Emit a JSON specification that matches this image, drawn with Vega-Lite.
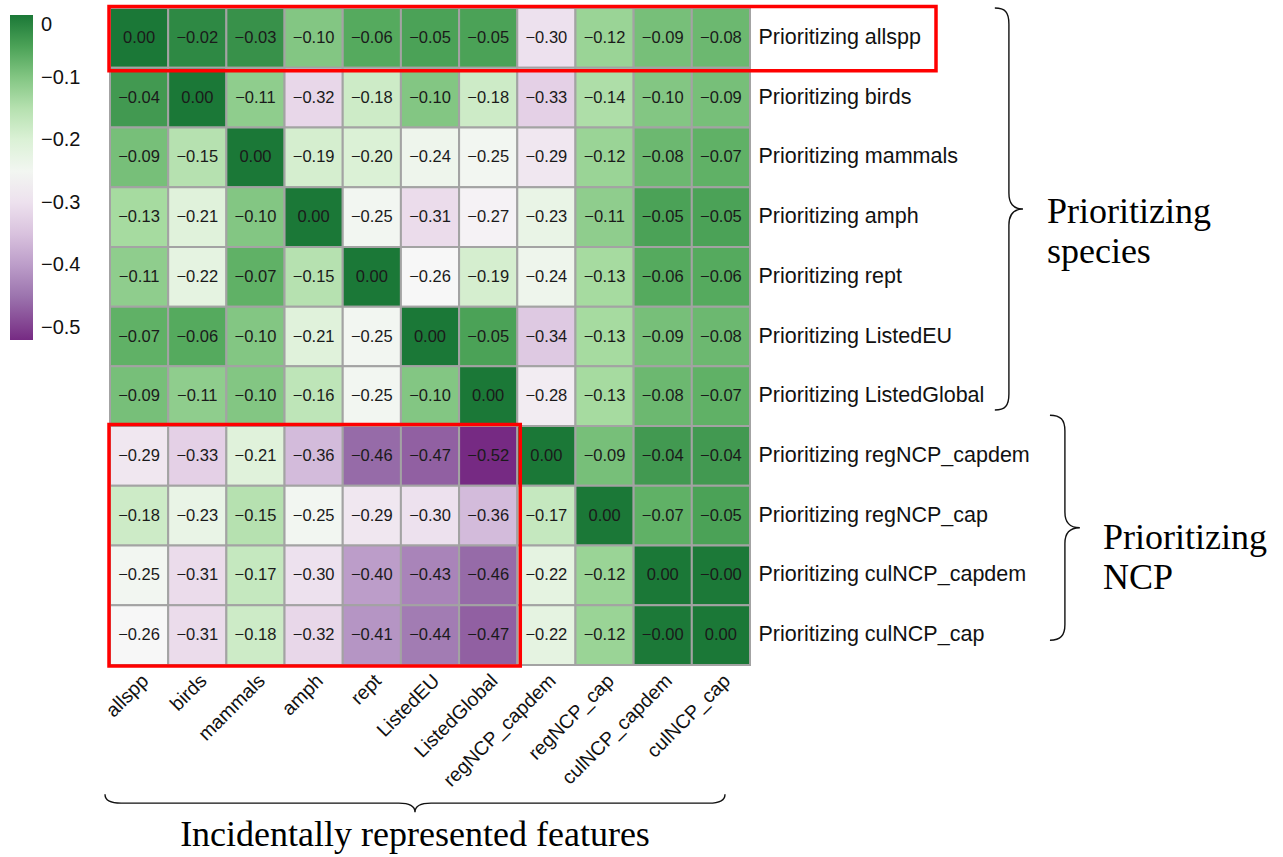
{
  "$schema": "https://vega.github.io/schema/vega-lite/v6.json",
  "autosize": {"type": "none"},
  "padding": {"left": 110, "top": 8, "right": 533, "bottom": 192},
  "width": 640,
  "height": 657,
  "background": "white",
  "config": {"view": {"stroke": null}},
  "datasets": {
    "cells": [
      {"r":"allspp","c":"allspp","v":0,"t":"0.00"},{"r":"allspp","c":"birds","v":-0.02,"t":"−0.02"},{"r":"allspp","c":"mammals","v":-0.03,"t":"−0.03"},{"r":"allspp","c":"amph","v":-0.10,"t":"−0.10"},{"r":"allspp","c":"rept","v":-0.06,"t":"−0.06"},{"r":"allspp","c":"ListedEU","v":-0.05,"t":"−0.05"},{"r":"allspp","c":"ListedGlobal","v":-0.05,"t":"−0.05"},{"r":"allspp","c":"regNCP_capdem","v":-0.30,"t":"−0.30"},{"r":"allspp","c":"regNCP_cap","v":-0.12,"t":"−0.12"},{"r":"allspp","c":"culNCP_capdem","v":-0.09,"t":"−0.09"},{"r":"allspp","c":"culNCP_cap","v":-0.08,"t":"−0.08"},
      {"r":"birds","c":"allspp","v":-0.04,"t":"−0.04"},{"r":"birds","c":"birds","v":0,"t":"0.00"},{"r":"birds","c":"mammals","v":-0.11,"t":"−0.11"},{"r":"birds","c":"amph","v":-0.32,"t":"−0.32"},{"r":"birds","c":"rept","v":-0.18,"t":"−0.18"},{"r":"birds","c":"ListedEU","v":-0.10,"t":"−0.10"},{"r":"birds","c":"ListedGlobal","v":-0.18,"t":"−0.18"},{"r":"birds","c":"regNCP_capdem","v":-0.33,"t":"−0.33"},{"r":"birds","c":"regNCP_cap","v":-0.14,"t":"−0.14"},{"r":"birds","c":"culNCP_capdem","v":-0.10,"t":"−0.10"},{"r":"birds","c":"culNCP_cap","v":-0.09,"t":"−0.09"},
      {"r":"mammals","c":"allspp","v":-0.09,"t":"−0.09"},{"r":"mammals","c":"birds","v":-0.15,"t":"−0.15"},{"r":"mammals","c":"mammals","v":0,"t":"0.00"},{"r":"mammals","c":"amph","v":-0.19,"t":"−0.19"},{"r":"mammals","c":"rept","v":-0.20,"t":"−0.20"},{"r":"mammals","c":"ListedEU","v":-0.24,"t":"−0.24"},{"r":"mammals","c":"ListedGlobal","v":-0.25,"t":"−0.25"},{"r":"mammals","c":"regNCP_capdem","v":-0.29,"t":"−0.29"},{"r":"mammals","c":"regNCP_cap","v":-0.12,"t":"−0.12"},{"r":"mammals","c":"culNCP_capdem","v":-0.08,"t":"−0.08"},{"r":"mammals","c":"culNCP_cap","v":-0.07,"t":"−0.07"},
      {"r":"amph","c":"allspp","v":-0.13,"t":"−0.13"},{"r":"amph","c":"birds","v":-0.21,"t":"−0.21"},{"r":"amph","c":"mammals","v":-0.10,"t":"−0.10"},{"r":"amph","c":"amph","v":0,"t":"0.00"},{"r":"amph","c":"rept","v":-0.25,"t":"−0.25"},{"r":"amph","c":"ListedEU","v":-0.31,"t":"−0.31"},{"r":"amph","c":"ListedGlobal","v":-0.27,"t":"−0.27"},{"r":"amph","c":"regNCP_capdem","v":-0.23,"t":"−0.23"},{"r":"amph","c":"regNCP_cap","v":-0.11,"t":"−0.11"},{"r":"amph","c":"culNCP_capdem","v":-0.05,"t":"−0.05"},{"r":"amph","c":"culNCP_cap","v":-0.05,"t":"−0.05"},
      {"r":"rept","c":"allspp","v":-0.11,"t":"−0.11"},{"r":"rept","c":"birds","v":-0.22,"t":"−0.22"},{"r":"rept","c":"mammals","v":-0.07,"t":"−0.07"},{"r":"rept","c":"amph","v":-0.15,"t":"−0.15"},{"r":"rept","c":"rept","v":0,"t":"0.00"},{"r":"rept","c":"ListedEU","v":-0.26,"t":"−0.26"},{"r":"rept","c":"ListedGlobal","v":-0.19,"t":"−0.19"},{"r":"rept","c":"regNCP_capdem","v":-0.24,"t":"−0.24"},{"r":"rept","c":"regNCP_cap","v":-0.13,"t":"−0.13"},{"r":"rept","c":"culNCP_capdem","v":-0.06,"t":"−0.06"},{"r":"rept","c":"culNCP_cap","v":-0.06,"t":"−0.06"},
      {"r":"ListedEU","c":"allspp","v":-0.07,"t":"−0.07"},{"r":"ListedEU","c":"birds","v":-0.06,"t":"−0.06"},{"r":"ListedEU","c":"mammals","v":-0.10,"t":"−0.10"},{"r":"ListedEU","c":"amph","v":-0.21,"t":"−0.21"},{"r":"ListedEU","c":"rept","v":-0.25,"t":"−0.25"},{"r":"ListedEU","c":"ListedEU","v":0,"t":"0.00"},{"r":"ListedEU","c":"ListedGlobal","v":-0.05,"t":"−0.05"},{"r":"ListedEU","c":"regNCP_capdem","v":-0.34,"t":"−0.34"},{"r":"ListedEU","c":"regNCP_cap","v":-0.13,"t":"−0.13"},{"r":"ListedEU","c":"culNCP_capdem","v":-0.09,"t":"−0.09"},{"r":"ListedEU","c":"culNCP_cap","v":-0.08,"t":"−0.08"},
      {"r":"ListedGlobal","c":"allspp","v":-0.09,"t":"−0.09"},{"r":"ListedGlobal","c":"birds","v":-0.11,"t":"−0.11"},{"r":"ListedGlobal","c":"mammals","v":-0.10,"t":"−0.10"},{"r":"ListedGlobal","c":"amph","v":-0.16,"t":"−0.16"},{"r":"ListedGlobal","c":"rept","v":-0.25,"t":"−0.25"},{"r":"ListedGlobal","c":"ListedEU","v":-0.10,"t":"−0.10"},{"r":"ListedGlobal","c":"ListedGlobal","v":0,"t":"0.00"},{"r":"ListedGlobal","c":"regNCP_capdem","v":-0.28,"t":"−0.28"},{"r":"ListedGlobal","c":"regNCP_cap","v":-0.13,"t":"−0.13"},{"r":"ListedGlobal","c":"culNCP_capdem","v":-0.08,"t":"−0.08"},{"r":"ListedGlobal","c":"culNCP_cap","v":-0.07,"t":"−0.07"},
      {"r":"regNCP_capdem","c":"allspp","v":-0.29,"t":"−0.29"},{"r":"regNCP_capdem","c":"birds","v":-0.33,"t":"−0.33"},{"r":"regNCP_capdem","c":"mammals","v":-0.21,"t":"−0.21"},{"r":"regNCP_capdem","c":"amph","v":-0.36,"t":"−0.36"},{"r":"regNCP_capdem","c":"rept","v":-0.46,"t":"−0.46"},{"r":"regNCP_capdem","c":"ListedEU","v":-0.47,"t":"−0.47"},{"r":"regNCP_capdem","c":"ListedGlobal","v":-0.52,"t":"−0.52"},{"r":"regNCP_capdem","c":"regNCP_capdem","v":0,"t":"0.00"},{"r":"regNCP_capdem","c":"regNCP_cap","v":-0.09,"t":"−0.09"},{"r":"regNCP_capdem","c":"culNCP_capdem","v":-0.04,"t":"−0.04"},{"r":"regNCP_capdem","c":"culNCP_cap","v":-0.04,"t":"−0.04"},
      {"r":"regNCP_cap","c":"allspp","v":-0.18,"t":"−0.18"},{"r":"regNCP_cap","c":"birds","v":-0.23,"t":"−0.23"},{"r":"regNCP_cap","c":"mammals","v":-0.15,"t":"−0.15"},{"r":"regNCP_cap","c":"amph","v":-0.25,"t":"−0.25"},{"r":"regNCP_cap","c":"rept","v":-0.29,"t":"−0.29"},{"r":"regNCP_cap","c":"ListedEU","v":-0.30,"t":"−0.30"},{"r":"regNCP_cap","c":"ListedGlobal","v":-0.36,"t":"−0.36"},{"r":"regNCP_cap","c":"regNCP_capdem","v":-0.17,"t":"−0.17"},{"r":"regNCP_cap","c":"regNCP_cap","v":0,"t":"0.00"},{"r":"regNCP_cap","c":"culNCP_capdem","v":-0.07,"t":"−0.07"},{"r":"regNCP_cap","c":"culNCP_cap","v":-0.05,"t":"−0.05"},
      {"r":"culNCP_capdem","c":"allspp","v":-0.25,"t":"−0.25"},{"r":"culNCP_capdem","c":"birds","v":-0.31,"t":"−0.31"},{"r":"culNCP_capdem","c":"mammals","v":-0.17,"t":"−0.17"},{"r":"culNCP_capdem","c":"amph","v":-0.30,"t":"−0.30"},{"r":"culNCP_capdem","c":"rept","v":-0.40,"t":"−0.40"},{"r":"culNCP_capdem","c":"ListedEU","v":-0.43,"t":"−0.43"},{"r":"culNCP_capdem","c":"ListedGlobal","v":-0.46,"t":"−0.46"},{"r":"culNCP_capdem","c":"regNCP_capdem","v":-0.22,"t":"−0.22"},{"r":"culNCP_capdem","c":"regNCP_cap","v":-0.12,"t":"−0.12"},{"r":"culNCP_capdem","c":"culNCP_capdem","v":0,"t":"0.00"},{"r":"culNCP_capdem","c":"culNCP_cap","v":-0.001,"t":"−0.00"},
      {"r":"culNCP_cap","c":"allspp","v":-0.26,"t":"−0.26"},{"r":"culNCP_cap","c":"birds","v":-0.31,"t":"−0.31"},{"r":"culNCP_cap","c":"mammals","v":-0.18,"t":"−0.18"},{"r":"culNCP_cap","c":"amph","v":-0.32,"t":"−0.32"},{"r":"culNCP_cap","c":"rept","v":-0.41,"t":"−0.41"},{"r":"culNCP_cap","c":"ListedEU","v":-0.44,"t":"−0.44"},{"r":"culNCP_cap","c":"ListedGlobal","v":-0.47,"t":"−0.47"},{"r":"culNCP_cap","c":"regNCP_capdem","v":-0.22,"t":"−0.22"},{"r":"culNCP_cap","c":"regNCP_cap","v":-0.12,"t":"−0.12"},{"r":"culNCP_cap","c":"culNCP_capdem","v":-0.001,"t":"−0.00"},{"r":"culNCP_cap","c":"culNCP_cap","v":0,"t":"0.00"}
    ],
    "boxes": [
      {"c1":"allspp","c2":"culNCP_cap","r1":"allspp","r2":"allspp","box":"top"},
      {"c1":"allspp","c2":"ListedGlobal","r1":"regNCP_capdem","r2":"culNCP_cap","box":"bottom"}
    ]
  },
  "layer": [
    {
      "data": {"name": "cells"},
      "mark": {"type": "rect", "stroke": "#a3a3a3", "strokeWidth": 2},
      "encoding": {
        "x": {"field": "c", "type": "nominal", "sort": null,
              "scale": {"domain": ["allspp","birds","mammals","amph","rept","ListedEU","ListedGlobal","regNCP_capdem","regNCP_cap","culNCP_capdem","culNCP_cap"], "paddingInner": 0, "paddingOuter": 0},
              "axis": {"orient": "bottom", "title": null, "labelAngle": -45, "labelFont": "Liberation Sans", "labelFontSize": 19.5, "labelColor": "#111", "ticks": false, "domain": false, "labelPadding": 6, "labelLimit": 300}},
        "y": {"field": "r", "type": "nominal", "sort": null,
              "scale": {"domain": ["allspp","birds","mammals","amph","rept","ListedEU","ListedGlobal","regNCP_capdem","regNCP_cap","culNCP_capdem","culNCP_cap"], "paddingInner": 0, "paddingOuter": 0},
              "axis": {"orient": "right", "title": null, "labelExpr": "'Prioritizing ' + datum.value", "labelFont": "Liberation Sans", "labelFontSize": 21.5, "labelColor": "#111", "ticks": false, "domain": false, "labelPadding": 8, "labelLimit": 400}},
        "color": {"field": "v", "type": "quantitative",
                  "scale": {"domain": [-0.52, -0.455, -0.39, -0.325, -0.26, -0.195, -0.13, -0.065, 0],
                            "range": ["#762a83", "#9970ab", "#c2a5cf", "#e7d4e8", "#f7f7f7", "#d9f0d3", "#a6dba0", "#5aae61", "#1b7837"],
                            "interpolate": "rgb"},
                  "legend": {"orient": "none", "legendX": -100, "legendY": 7, "title": null, "direction": "vertical",
                             "gradientLength": 325, "gradientThickness": 23, "gradientStrokeWidth": 0,
                             "values": [0, -0.1, -0.2, -0.3, -0.4, -0.5], "format": ".1~f",
                             "labelFont": "Liberation Sans", "labelFontSize": 20, "labelColor": "#111", "labelOffset": 8, "labelBaseline": "middle"}}
      }
    },
    {
      "data": {"name": "cells"},
      "mark": {"type": "text", "font": "Liberation Sans", "fontSize": 16.5, "color": "#1a1a1a"},
      "encoding": {
        "x": {"field": "c", "type": "nominal", "sort": null, "scale": {"domain": ["allspp","birds","mammals","amph","rept","ListedEU","ListedGlobal","regNCP_capdem","regNCP_cap","culNCP_capdem","culNCP_cap"]}},
        "y": {"field": "r", "type": "nominal", "sort": null, "scale": {"domain": ["allspp","birds","mammals","amph","rept","ListedEU","ListedGlobal","regNCP_capdem","regNCP_cap","culNCP_capdem","culNCP_cap"]}},
        "text": {"field": "t", "type": "nominal"}
      }
    },
    {
      "data": {"name": "boxes"},
      "transform": [{"filter": "datum.box === 'top'"}],
      "mark": {"type": "rect", "fill": null, "filled": false, "stroke": "#ff0000", "strokeWidth": 3.5, "xOffset": -1, "x2Offset": 186, "yOffset": -1.5, "y2Offset": 3},
      "encoding": {
        "x": {"field": "c1", "type": "nominal", "sort": null, "bandPosition": 0, "scale": {"domain": ["allspp","birds","mammals","amph","rept","ListedEU","ListedGlobal","regNCP_capdem","regNCP_cap","culNCP_capdem","culNCP_cap"]}},
        "x2": {"field": "c2", "bandPosition": 1},
        "y": {"field": "r1", "type": "nominal", "sort": null, "bandPosition": 0, "scale": {"domain": ["allspp","birds","mammals","amph","rept","ListedEU","ListedGlobal","regNCP_capdem","regNCP_cap","culNCP_capdem","culNCP_cap"]}},
        "y2": {"field": "r2", "bandPosition": 1}
      }
    },
    {
      "data": {"name": "boxes"},
      "transform": [{"filter": "datum.box === 'bottom'"}],
      "mark": {"type": "rect", "fill": null, "filled": false, "stroke": "#ff0000", "strokeWidth": 3.5, "xOffset": -1, "x2Offset": 3, "yOffset": -1.5, "y2Offset": 1},
      "encoding": {
        "x": {"field": "c1", "type": "nominal", "sort": null, "bandPosition": 0, "scale": {"domain": ["allspp","birds","mammals","amph","rept","ListedEU","ListedGlobal","regNCP_capdem","regNCP_cap","culNCP_capdem","culNCP_cap"]}},
        "x2": {"field": "c2", "bandPosition": 1},
        "y": {"field": "r1", "type": "nominal", "sort": null, "bandPosition": 0, "scale": {"domain": ["allspp","birds","mammals","amph","rept","ListedEU","ListedGlobal","regNCP_capdem","regNCP_cap","culNCP_capdem","culNCP_cap"]}},
        "y2": {"field": "r2", "bandPosition": 1}
      }
    },
    {
      "data": {"values": [{"c": "culNCP_cap", "r": "amph", "label": "Prioritizing species"}]},
      "mark": {"type": "point", "shape": "M -0.07 -1 C -0.02 -1 0 -0.98 0 -0.92 L 0 -0.08 C 0 -0.03 0.02 0 0.07 0 C 0.02 0 0 0.03 0 0.08 L 0 0.92 C 0 0.98 -0.02 1 -0.07 1", "filled": false, "stroke": "#111", "strokeWidth": 1.4, "opacity": 1, "size": 161604, "xOffset": 288, "yOffset": -8},
      "encoding": {
        "x": {"field": "c", "type": "nominal", "sort": null, "scale": {"domain": ["allspp","birds","mammals","amph","rept","ListedEU","ListedGlobal","regNCP_capdem","regNCP_cap","culNCP_capdem","culNCP_cap"]}},
        "y": {"field": "r", "type": "nominal", "sort": null, "scale": {"domain": ["allspp","birds","mammals","amph","rept","ListedEU","ListedGlobal","regNCP_capdem","regNCP_cap","culNCP_capdem","culNCP_cap"]}}
      }
    },
    {
      "data": {"values": [{"c": "culNCP_cap", "r": "regNCP_cap", "label": "Prioritizing NCP"}]},
      "mark": {"type": "point", "shape": "M -0.133 -1 C -0.04 -1 0 -0.96 0 -0.86 L 0 -0.14 C 0 -0.05 0.04 0 0.133 0 C 0.04 0 0 0.05 0 0.14 L 0 0.86 C 0 0.96 -0.04 1 -0.133 1", "filled": false, "stroke": "#111", "strokeWidth": 1.4, "opacity": 1, "size": 50625, "xOffset": 344, "yOffset": 12},
      "encoding": {
        "x": {"field": "c", "type": "nominal", "sort": null, "scale": {"domain": ["allspp","birds","mammals","amph","rept","ListedEU","ListedGlobal","regNCP_capdem","regNCP_cap","culNCP_capdem","culNCP_cap"]}},
        "y": {"field": "r", "type": "nominal", "sort": null, "scale": {"domain": ["allspp","birds","mammals","amph","rept","ListedEU","ListedGlobal","regNCP_capdem","regNCP_cap","culNCP_capdem","culNCP_cap"]}}
      }
    },
    {
      "data": {"values": [{"c": "ListedEU", "r": "culNCP_cap", "label": "Incidentally represented features"}]},
      "mark": {"type": "point", "shape": "M -1 -0.029 C -1 -0.008 -0.98 0 -0.948 0 L -0.052 0 C -0.018 0 0 0.01 0 0.029 C 0 0.01 0.018 0 0.052 0 L 0.948 0 C 0.98 0 1 -0.008 1 -0.029", "filled": false, "stroke": "#111", "strokeWidth": 1.4, "opacity": 1, "size": 384400, "xOffset": -15, "yOffset": 168},
      "encoding": {
        "x": {"field": "c", "type": "nominal", "sort": null, "scale": {"domain": ["allspp","birds","mammals","amph","rept","ListedEU","ListedGlobal","regNCP_capdem","regNCP_cap","culNCP_capdem","culNCP_cap"]}},
        "y": {"field": "r", "type": "nominal", "sort": null, "scale": {"domain": ["allspp","birds","mammals","amph","rept","ListedEU","ListedGlobal","regNCP_capdem","regNCP_cap","culNCP_capdem","culNCP_cap"]}}
      }
    },
    {
      "data": {"values": [{"c": "culNCP_cap", "r": "amph", "label": ["Prioritizing", "species"]}]},
      "mark": {"type": "text", "font": "Liberation Serif", "fontSize": 36, "color": "#000", "align": "left", "baseline": "alphabetic", "lineHeight": 40, "xOffset": 326, "yOffset": 6},
      "encoding": {
        "x": {"field": "c", "type": "nominal", "sort": null, "scale": {"domain": ["allspp","birds","mammals","amph","rept","ListedEU","ListedGlobal","regNCP_capdem","regNCP_cap","culNCP_capdem","culNCP_cap"]}},
        "y": {"field": "r", "type": "nominal", "sort": null, "scale": {"domain": ["allspp","birds","mammals","amph","rept","ListedEU","ListedGlobal","regNCP_capdem","regNCP_cap","culNCP_capdem","culNCP_cap"]}},
        "text": {"field": "label"}
      }
    },
    {
      "data": {"values": [{"c": "culNCP_cap", "r": "regNCP_cap", "label": ["Prioritizing", "NCP"]}]},
      "mark": {"type": "text", "font": "Liberation Serif", "fontSize": 36, "color": "#000", "align": "left", "baseline": "alphabetic", "lineHeight": 40, "xOffset": 382, "yOffset": 33},
      "encoding": {
        "x": {"field": "c", "type": "nominal", "sort": null, "scale": {"domain": ["allspp","birds","mammals","amph","rept","ListedEU","ListedGlobal","regNCP_capdem","regNCP_cap","culNCP_capdem","culNCP_cap"]}},
        "y": {"field": "r", "type": "nominal", "sort": null, "scale": {"domain": ["allspp","birds","mammals","amph","rept","ListedEU","ListedGlobal","regNCP_capdem","regNCP_cap","culNCP_capdem","culNCP_cap"]}},
        "text": {"field": "label"}
      }
    },
    {
      "data": {"values": [{"c": "ListedEU", "r": "culNCP_cap", "label": "Incidentally represented features"}]},
      "mark": {"type": "text", "font": "Liberation Serif", "fontSize": 36, "color": "#000", "align": "center", "baseline": "alphabetic", "xOffset": -15, "yOffset": 211},
      "encoding": {
        "x": {"field": "c", "type": "nominal", "sort": null, "scale": {"domain": ["allspp","birds","mammals","amph","rept","ListedEU","ListedGlobal","regNCP_capdem","regNCP_cap","culNCP_capdem","culNCP_cap"]}},
        "y": {"field": "r", "type": "nominal", "sort": null, "scale": {"domain": ["allspp","birds","mammals","amph","rept","ListedEU","ListedGlobal","regNCP_capdem","regNCP_cap","culNCP_capdem","culNCP_cap"]}},
        "text": {"field": "label"}
      }
    }
  ]
}
